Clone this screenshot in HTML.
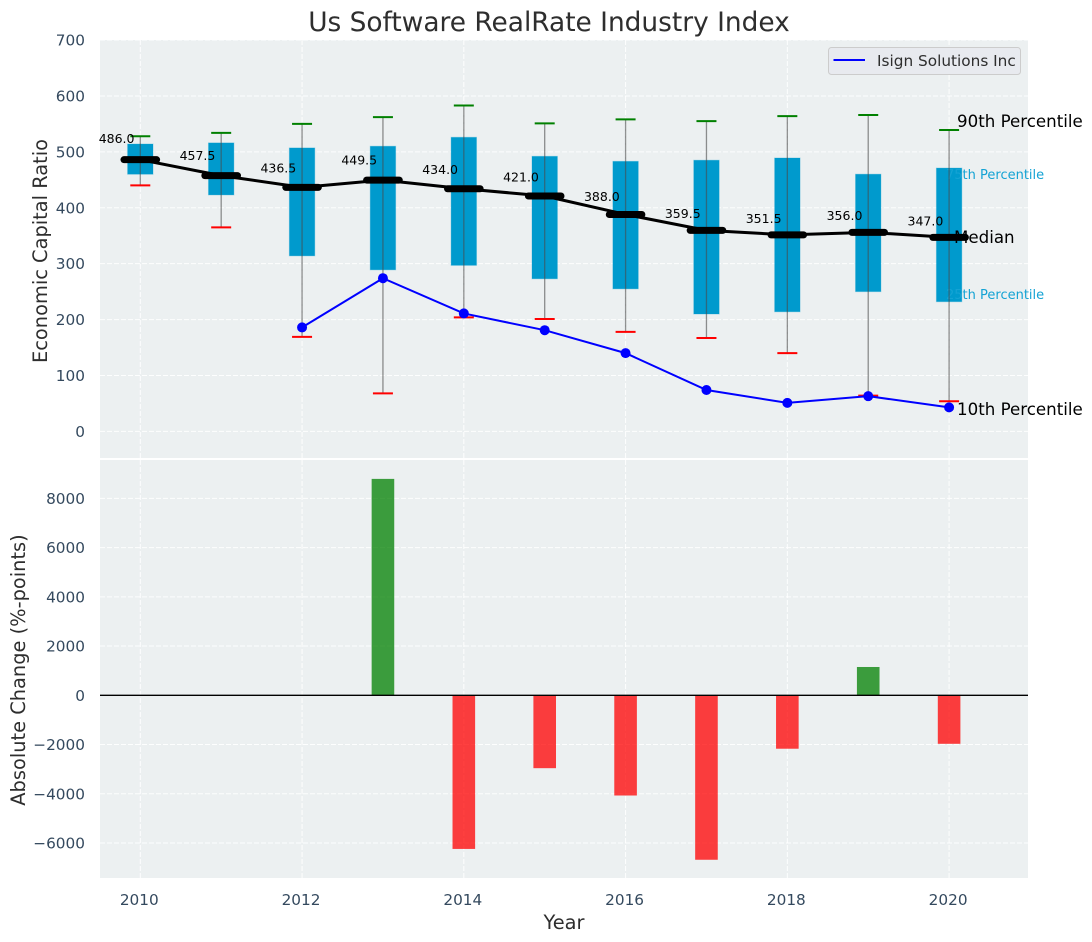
<!DOCTYPE html>
<html lang="en">
<head>
<meta charset="utf-8">
<title>Us Software RealRate Industry Index</title>
<style>
html,body{margin:0;padding:0;background:#fff;}
svg{display:block;font-family:"DejaVu Sans","Liberation Sans",sans-serif;}
</style>
</head>
<body>
<svg id="chart" xmlns="http://www.w3.org/2000/svg" width="1092" height="942" viewBox="0 0 1092 942">
  <rect x="0" y="0" width="1092" height="942" fill="#ffffff"/>
  <rect x="100" y="40" width="928" height="418" fill="#ecf0f1"/>
  <rect x="100" y="460" width="928" height="418" fill="#ecf0f1"/>
  <g id="grid"></g>
  <g id="boxes"></g>
  <g id="annotations-over-box">
    <text x="946" y="179" font-size="13" fill="#14a3d4">75th Percentile</text>
    <text x="946" y="299" font-size="13" fill="#14a3d4">25th Percentile</text>
  </g>
  <g id="whiskers"></g>
  <g id="company"></g>
  <g id="medians"></g>
  <g id="bars"></g>
  <g id="ticks"></g>
  <text x="549" y="31" font-size="26.4" text-anchor="middle" fill="#2e2e2e">Us Software RealRate Industry Index</text>
  <text transform="translate(47,251) rotate(-90)" font-size="19.4" text-anchor="middle" fill="#2e2e2e">Economic Capital Ratio</text>
  <text transform="translate(25,670) rotate(-90)" font-size="19.4" text-anchor="middle" fill="#2e2e2e">Absolute Change (%-points)</text>
  <text x="564" y="929" font-size="19.4" text-anchor="middle" fill="#2e2e2e">Year</text>
  <text x="957" y="127" font-size="16.67" fill="#000000">90th Percentile</text>
  <text x="954" y="243" font-size="16.67" fill="#000000">Median</text>
  <text x="957" y="415" font-size="16.67" fill="#000000">10th Percentile</text>
  <g>
    <rect x="828.5" y="47.5" width="192" height="27" rx="3" fill="#e8eaef" stroke="#cccccc" stroke-width="1"/>
    <line x1="833.5" y1="60" x2="865" y2="60" stroke="#0000ff" stroke-width="2"/>
    <text x="877" y="66" font-size="15.3" fill="#2e2e2e">Isign Solutions Inc</text>
  </g>
</svg>
<script>
const years = [2010, 2011, 2012, 2013, 2014, 2015, 2016, 2017, 2018, 2019, 2020];
const medianValues = [486.0, 457.5, 436.5, 449.5, 434.0, 421.0, 388.0, 359.5, 351.5, 356.0, 347.0];
const p75Values = [514, 516, 507, 510, 526, 492, 483, 485, 489, 460, 471];
const p25Values = [460, 423, 314, 289, 297, 273, 255, 210, 214, 250, 232];
const p90Values = [528, 534, 550, 562, 583, 551, 558, 555, 564, 566, 539];
const p10Values = [440, 365, 169, 68, 204, 201, 178, 167, 140, 64, 54];
const companyValues = [null, null, 186, 274, 211, 181, 140, 74, 51, 63, 43];
const changeValues = [null, null, null, 8790, -6240, -2960, -4070, -6680, -2170, 1150, -1970];
const xTickLabels = [2010, 2012, 2014, 2016, 2018, 2020];
const topTickLabels = [0, 100, 200, 300, 400, 500, 600, 700];
const bottomTickLabels = [-6000, -4000, -2000, 0, 2000, 4000, 6000, 8000];

const SVG_NS = 'http://www.w3.org/2000/svg';
function xScale(v) { return 140.3 + (v - 2010) * 80.88; }
function yTop(v) { return 431.4 - v * 0.5591; }
function yBottom(v) { return 695.3 - v * 0.02462; }
function mk(tag, parentId, attrs, text) {
  const node = document.createElementNS(SVG_NS, tag);
  for (const k in attrs) node.setAttribute(k, attrs[k]);
  if (text !== undefined) node.textContent = text;
  document.getElementById(parentId).appendChild(node);
  return node;
}
const GRID = { stroke: '#ffffff', 'stroke-width': 1, 'stroke-dasharray': '5 2', 'stroke-opacity': 0.9 };

xTickLabels.forEach(function (t) {
  const x = xScale(t);
  const gridTop = mk('line', 'grid', Object.assign({ x1: x, x2: x, y1: 40, y2: 458 }, GRID));
  
  
  const gridBottom = mk('line', 'grid', Object.assign({ x1: x, x2: x, y1: 460, y2: 878 }, GRID));
  
  
  const label = mk('text', 'ticks', { x: x - 1, y: 905, 'font-size': 15.3, 'text-anchor': 'middle', fill: '#34495e' }, String(t));
  
  
});

topTickLabels.forEach(function (t) {
  const y = yTop(t);
  const grid = mk('line', 'grid', Object.assign({ x1: 100, x2: 1028, y1: y, y2: y }, GRID));
  
  
  const label = mk('text', 'ticks', { x: 85, y: y + 5.5, 'font-size': 15.3, 'text-anchor': 'end', fill: '#34495e' }, String(t));
  
  
});

bottomTickLabels.forEach(function (t) {
  const y = yBottom(t);
  const grid = mk('line', 'grid', Object.assign({ x1: 100, x2: 1028, y1: y, y2: y }, GRID));
  
  
  const text = t < 0 ? '\u2212' + Math.abs(t) : String(t);
  const label = mk('text', 'ticks', { x: 85, y: y + 5.5, 'font-size': 15.3, 'text-anchor': 'end', fill: '#34495e' }, text);
  
  
});

years.forEach(function (year, i) {
  const x = xScale(year);
  const boxTop = yTop(p75Values[i]);
  const box = mk('rect', 'boxes', {
    x: x - 12.7, y: boxTop, width: 25.4, height: yTop(p25Values[i]) - boxTop,
    fill: '#009acd', stroke: '#009acd', 'stroke-opacity': 0.3, 'stroke-width': 1
  });
  
  

  const whisker = mk('line', 'whiskers', {
    x1: x, x2: x, y1: yTop(p90Values[i]), y2: yTop(p10Values[i]),
    stroke: '#4a4a4a', 'stroke-opacity': 0.6, 'stroke-width': 1.3
  });
  
  

  const capHigh = mk('line', 'whiskers', {
    x1: x - 10, x2: x + 10, y1: yTop(p90Values[i]), y2: yTop(p90Values[i]),
    stroke: '#008000', 'stroke-width': 2
  });
  
  

  const capLow = mk('line', 'whiskers', {
    x1: x - 10, x2: x + 10, y1: yTop(p10Values[i]), y2: yTop(p10Values[i]),
    stroke: '#ff0000', 'stroke-width': 2
  });
  
  
});

const companyPoints = years.map(function (y, i) {
  return companyValues[i] === null ? null : xScale(y) + ',' + yTop(companyValues[i]);
}).filter(Boolean).join(' ');
const companyLine = mk('polyline', 'company', { points: companyPoints, fill: 'none', stroke: '#0000ff', 'stroke-width': 2 });


years.forEach(function (year, i) {
  if (companyValues[i] === null) return;
  const dot = mk('circle', 'company', { cx: xScale(year), cy: yTop(companyValues[i]), r: 5, fill: '#0000ff' });
  
  
});

const medianPoints = years.map(function (y, i) { return xScale(y) + ',' + yTop(medianValues[i]); }).join(' ');
const medianLine = mk('polyline', 'medians', { points: medianPoints, fill: 'none', stroke: '#000000', 'stroke-width': 3 });


years.forEach(function (year, i) {
  const x = xScale(year);
  const y = yTop(medianValues[i]);
  const mark = mk('line', 'medians', {
    x1: x - 16.3, x2: x + 16.3, y1: y, y2: y, stroke: '#000000', 'stroke-width': 7, 'stroke-linecap': 'round'
  });
  
  
  const label = mk('text', 'medians', {
    x: x - 23.7, y: yTop(medianValues[i] * 1.0617), 'font-size': 12.5, 'text-anchor': 'middle', fill: '#000000'
  }, medianValues[i].toFixed(1));
  
  
});

years.forEach(function (year, i) {
  const v = changeValues[i];
  if (v === null) return;
  const x = xScale(year);
  const y0 = yBottom(0);
  const y1 = yBottom(v);
  const color = v >= 0 ? '#008000' : '#ff0000';
  const bar = mk('rect', 'bars', {
    x: x - 11.3, y: Math.min(y0, y1), width: 22.6, height: Math.abs(y1 - y0),
    fill: color, 'fill-opacity': 0.75
  });
  
  
});
const zeroLine = mk('line', 'bars', { x1: 100, x2: 1028, y1: yBottom(0), y2: yBottom(0), stroke: '#000000', 'stroke-width': 1.4 });


</script>
</body>
</html>
